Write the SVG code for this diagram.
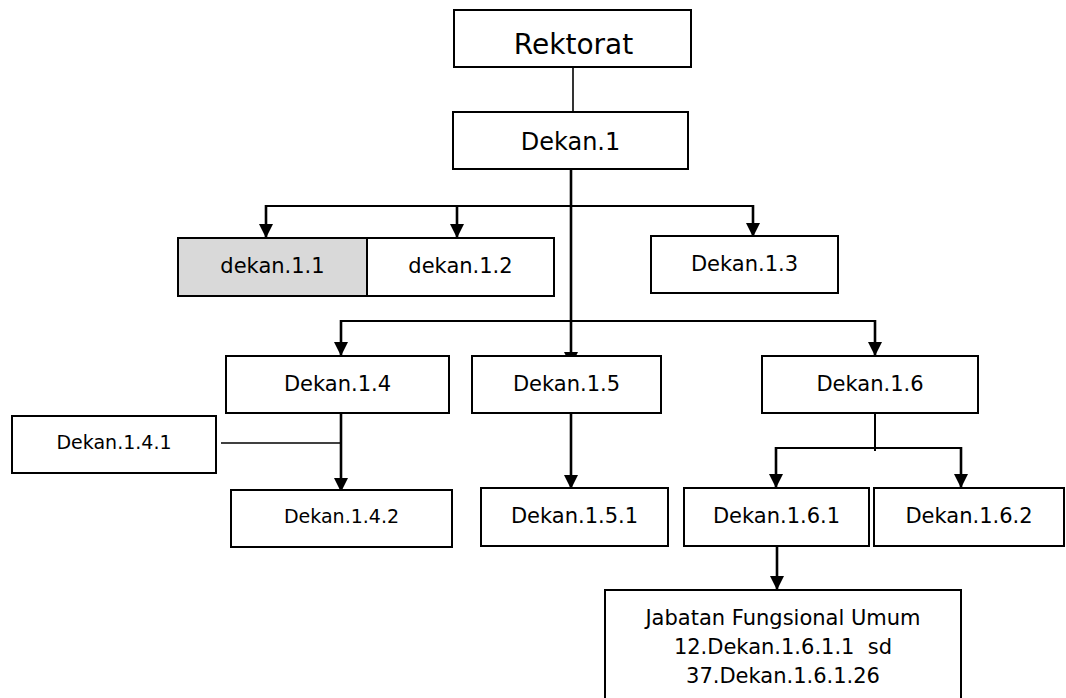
<svg xmlns="http://www.w3.org/2000/svg" width="1066" height="698" viewBox="0 0 1066 698">
<style>
  .box { fill: #ffffff; stroke: #000000; stroke-width: 2; }
  .gray { fill: #d9d9d9; }
  .t { font-family: "DejaVu Sans", Verdana, sans-serif; font-size: 21px; fill: #000000; text-anchor: middle; }
  .sm { font-size: 19px; }
  .md { font-size: 24px; }
  .big { font-size: 28px; }
  .thin { fill: none; stroke: #000000; stroke-width: 1.6; }
  .arr { fill: none; stroke: #000000; stroke-width: 2.6; marker-end: url(#ah); }
  .mid { fill: none; stroke: #000000; stroke-width: 2; }
</style>
<defs>
  <marker id="ah" markerUnits="userSpaceOnUse" viewBox="0 0 14 14" refX="14" refY="7" markerWidth="14" markerHeight="14" orient="auto">
    <path d="M0,0 L14,7 L0,14 Z" fill="#000000"/>
  </marker>
</defs>
<rect width="1066" height="698" fill="#ffffff"/>

<g id="connectors">
  <line class="thin" x1="573" y1="67" x2="573" y2="112"/>
  <line class="arr" x1="571" y1="169" x2="571" y2="366"/>
  <line class="mid" x1="266" y1="206" x2="753" y2="206"/>
  <line class="arr" x1="266" y1="205" x2="266" y2="238"/>
  <line class="arr" x1="457" y1="205" x2="457" y2="238"/>
  <line class="arr" x1="753" y1="205" x2="753" y2="237"/>
  <line class="mid" x1="341" y1="321" x2="875" y2="321"/>
  <line class="arr" x1="341" y1="320" x2="341" y2="356"/>
  <line class="arr" x1="875" y1="320" x2="875" y2="356"/>
  <line class="arr" x1="341" y1="413" x2="341" y2="492"/>
  <line class="thin" x1="221" y1="443" x2="341" y2="443"/>
  <line class="arr" x1="571" y1="413" x2="571" y2="489"/>
  <line class="mid" x1="875" y1="413" x2="875" y2="451"/>
  <line class="mid" x1="776" y1="448" x2="961" y2="448"/>
  <line class="arr" x1="776" y1="447" x2="776" y2="488"/>
  <line class="arr" x1="961" y1="447" x2="961" y2="488"/>
  <line class="arr" x1="777" y1="546" x2="777" y2="590"/>
</g>

<g id="rektorat">
  <rect class="box" x="454" y="10" width="237" height="57"/>
  <text class="t big" x="573.5" y="54">Rektorat</text>
</g>
<g id="dekan-1">
  <rect class="box" x="453" y="112" width="235" height="57"/>
  <text class="t md" x="570.5" y="150">Dekan.1</text>
</g>
<g id="dekan-1-1">
  <rect class="box gray" x="178" y="238" width="189" height="58"/>
  <text class="t" x="272.5" y="273">dekan.1.1</text>
</g>
<g id="dekan-1-2">
  <rect class="box" x="367" y="238" width="187" height="58"/>
  <text class="t" x="460.5" y="273">dekan.1.2</text>
</g>
<g id="dekan-1-3">
  <rect class="box" x="651" y="236" width="187" height="57"/>
  <text class="t" x="744.5" y="271">Dekan.1.3</text>
</g>
<g id="dekan-1-4">
  <rect class="box" x="226" y="356" width="223" height="57"/>
  <text class="t" x="337.5" y="391">Dekan.1.4</text>
</g>
<g id="dekan-1-5">
  <rect class="box" x="472" y="356" width="189" height="57"/>
  <text class="t" x="566.5" y="391">Dekan.1.5</text>
</g>
<g id="dekan-1-6">
  <rect class="box" x="762" y="356" width="216" height="57"/>
  <text class="t" x="870" y="391">Dekan.1.6</text>
</g>
<g id="dekan-1-4-1">
  <rect class="box" x="12" y="416" width="204" height="57"/>
  <text class="t sm" x="114" y="449">Dekan.1.4.1</text>
</g>
<g id="dekan-1-4-2">
  <rect class="box" x="231" y="490" width="221" height="57"/>
  <text class="t sm" x="341.5" y="523">Dekan.1.4.2</text>
</g>
<g id="dekan-1-5-1">
  <rect class="box" x="481" y="488" width="187" height="58"/>
  <text class="t" x="574.5" y="523">Dekan.1.5.1</text>
</g>
<g id="dekan-1-6-1">
  <rect class="box" x="684" y="488" width="185" height="58"/>
  <text class="t" x="776.5" y="523">Dekan.1.6.1</text>
</g>
<g id="dekan-1-6-2">
  <rect class="box" x="874" y="488" width="190" height="58"/>
  <text class="t" x="969" y="523">Dekan.1.6.2</text>
</g>
<g id="jabatan">
  <rect class="box" x="605" y="590" width="356" height="112"/>
  <text class="t" x="783" y="625">Jabatan Fungsional Umum</text>
  <text class="t" x="783" y="654" xml:space="preserve">12.Dekan.1.6.1.1  sd</text>
  <text class="t" x="783" y="683">37.Dekan.1.6.1.26</text>
</g>
</svg>
